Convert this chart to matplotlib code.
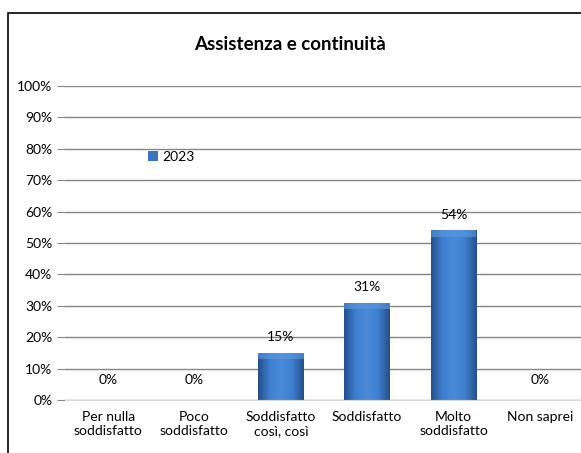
import numpy as np
import matplotlib
matplotlib.use("Agg")
from matplotlib import pyplot as plt
from matplotlib.patches import Rectangle
from matplotlib.colors import LinearSegmentedColormap

# chart data
categories = ["Per nulla\nsoddisfatto", "Poco\nsoddisfatto", "Soddisfatto\ncosì, così",
              "Soddisfatto", "Molto\nsoddisfatto", "Non saprei"]
values_2023 = [0, 0, 15, 31, 54, 0]
yticks = [0, 10, 20, 30, 40, 50, 60, 70, 80, 90, 100]
series_name = "2023"
title = "Assistenza e continuità"

plt.rcParams['font.family'] = ['Lato', 'DejaVu Sans']

fig = plt.figure(figsize=(5.81, 4.53), dpi=100)
fig.patch.set_facecolor("white")

# outer chart frame (clipped on right and bottom like the screenshot)
fig.patches.append(Rectangle((8 / 581, -0.05), 1.2, (453 - 13) / 453 + 0.05,
                             transform=fig.transFigure, fill=False,
                             edgecolor="black", linewidth=1.2))

ax = fig.add_axes([65 / 581, 53 / 453, 518 / 581, 314 / 453])
x = np.arange(len(categories))
bars = ax.bar(x, values_2023, width=0.53, color="#3B75C2", label=series_name, zorder=3)

# gradient fill for the bars
cmap = LinearSegmentedColormap.from_list("bev", ["#24508c", "#3f7fd0", "#4a8ad8", "#3f7fd0", "#24508c"])
grad = np.tile(np.linspace(0, 1, 64), (32, 1))
for b in bars:
    if b.get_height() <= 0:
        continue
    im = ax.imshow(grad, extent=[b.get_x(), b.get_x() + b.get_width(), 0, b.get_height()],
                   aspect="auto", cmap=cmap, zorder=4, origin="lower")
    im.set_clip_path(b)
    # soft bevel on top
    ax.add_patch(Rectangle((b.get_x(), b.get_height() - 2.0), b.get_width(), 2.0,
                           facecolor="#5d9ae2", edgecolor="none", zorder=5, alpha=0.6))

for b, v in zip(bars, values_2023):
    off = 7 if v > 0 else 10
    ax.annotate(f"{v}%", (b.get_x() + b.get_width() / 2, v), xytext=(0, off),
                textcoords="offset points", ha="center", va="bottom", fontsize=10)

ax.set_xlim(-0.5, len(categories) - 0.5)
ax.set_ylim(0, 100)
ax.set_yticks(yticks)
ax.set_yticklabels([f"{t}%" for t in yticks], fontsize=10)
ax.set_xticks(x)
ax.set_xticklabels(categories, fontsize=10, linespacing=1.2)
ax.yaxis.grid(True, color="#868686", linewidth=1, zorder=0)
ax.tick_params(axis="y", length=6, color="#868686", pad=3)
ax.tick_params(axis="x", length=0, pad=8)
for s in ["top", "right", "left"]:
    ax.spines[s].set_visible(False)
ax.spines["bottom"].set_color("#d9d9d9")
ax.spines["bottom"].set_zorder(6)

ax.legend(loc="center", bbox_to_anchor=(0.205, 0.775), frameon=False, fontsize=10,
          handlelength=0.7, handleheight=0.7, handletextpad=0.3)

fig.text(290 / 581, 1 - 45 / 453, title, ha="center", va="center",
         fontsize=13.5, fontweight="bold")

fig.savefig("out.png", dpi=100)
